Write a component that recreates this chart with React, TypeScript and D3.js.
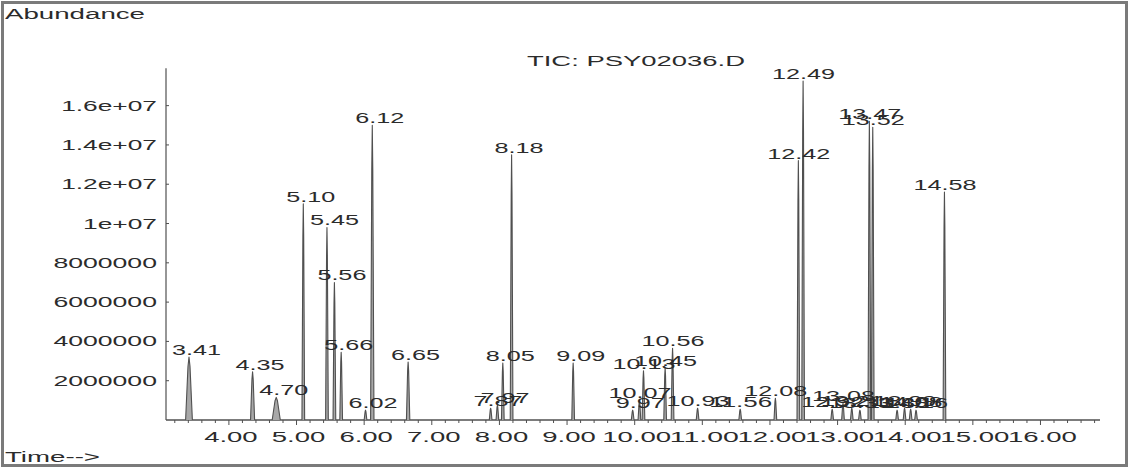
import React from "react";
import * as d3 from "d3";

// Peak retention times (min), heights (abundance), half-widths (min)
const peakTimes = [
  3.41, 4.35, 4.70, 5.10, 5.45, 5.56, 5.66, 6.02, 6.12, 6.65,
  7.87, 7.97, 8.05, 8.18, 9.09, 9.97, 10.07, 10.13, 10.45, 10.56,
  10.93, 11.56, 12.08, 12.42, 12.49, 12.92, 13.08, 13.21, 13.33,
  13.47, 13.52, 13.88, 13.99, 14.08, 14.16, 14.58,
];
const peakHeights = [
  3.2e6, 2.45e6, 1.15e6, 11.0e6, 9.8e6, 7.0e6, 3.45e6, 0.5e6, 15.0e6, 2.95e6,
  0.6e6, 0.75e6, 2.9e6, 13.5e6, 2.9e6, 0.5e6, 1.0e6, 2.5e6, 2.65e6, 3.65e6,
  0.6e6, 0.55e6, 1.1e6, 13.2e6, 17.25e6, 0.55e6, 0.85e6, 0.6e6, 0.5e6,
  15.2e6, 14.9e6, 0.5e6, 0.6e6, 0.55e6, 0.5e6, 11.6e6,
];
const peakHalfWidths = [
  0.05, 0.03, 0.06, 0.02, 0.02, 0.02, 0.02, 0.02, 0.025, 0.025,
  0.02, 0.02, 0.02, 0.02, 0.02, 0.02, 0.02, 0.02, 0.02, 0.02,
  0.02, 0.02, 0.02, 0.02, 0.02, 0.02, 0.02, 0.02, 0.02,
  0.02, 0.02, 0.02, 0.02, 0.02, 0.02, 0.02,
];
const peakLabels = peakTimes.map((t) => t.toFixed(2));

const xTickValues = [4, 5, 6, 7, 8, 9, 10, 11, 12, 13, 14, 15, 16];
const xTickLabels = xTickValues.map((v) => v.toFixed(2));
const yTickValues = [2e6, 4e6, 6e6, 8e6, 1e7, 1.2e7, 1.4e7, 1.6e7];
const yTickLabels = ["2000000", "4000000", "6000000", "8000000", "1e+07", "1.2e+07", "1.4e+07", "1.6e+07"];
const titleText = "TIC: PSY02036.D";
const yAxisTitle = "Abundance";
const xAxisTitle = "Time-->";

const W = 1129;
const H = 468;
const FONT = "'Liberation Sans', Arial, sans-serif";
const TEXT = "#2b2b2b";
const INK = "#505050";

const x = d3.scaleLinear().domain([3.07, 16.88]).range([166, 1100]);
const y = d3.scaleLinear().domain([0, 17.9e6]).range([420, 68.3]);

function textWidth(s: string, per = 14.8) {
  let w = 0;
  for (const c of s) w += c === "." || c === ":" || c === " " ? 7 : per;
  return w;
}

const peakLine = d3
  .line<[number, number]>()
  .x((d) => x(d[0]))
  .y((d) => y(d[1]));

export default function App() {
  const minorTicks = d3.range(3.2, 16.81, 0.2).filter(
    (v) => Math.abs(v - Math.round(v)) > 0.01
  );
  return (
    <div style={{ position: "absolute", left: 0, top: 0 }}>
      <svg width={W} height={H} style={{ display: "block", background: "#fff" }}>
        <rect x={2.5} y={2.5} width={W - 5} height={H - 5} fill="#fff" stroke="#7a7a7a" strokeWidth={3} />
        <text x={5} y={19} fontFamily={FONT} fontSize={14} fill={TEXT}
          textLength={140} lengthAdjust="spacingAndGlyphs">{yAxisTitle}</text>
        <text x={5} y={462} fontFamily={FONT} fontSize={14} fill={TEXT}
          textLength={95} lengthAdjust="spacingAndGlyphs">{xAxisTitle}</text>
        <text x={527} y={66} fontFamily={FONT} fontSize={14} fill={TEXT}
          textLength={218} lengthAdjust="spacingAndGlyphs">{titleText}</text>

        {/* y axis */}
        <line x1={x.range()[0]} x2={x.range()[0]} y1={y.range()[0]} y2={y.range()[1]} stroke={INK} strokeWidth={1.2} />
        {yTickValues.map((v, i) => (
          <g key={"yt" + i}>
            <line x1={x.range()[0]} x2={x.range()[0] + 3} y1={y(v)} y2={y(v)} stroke={INK} />
            <text x={157} y={y(v) + 5} textAnchor="end" fontFamily={FONT} fontSize={14} fill={TEXT}
              textLength={textWidth(yTickLabels[i])} lengthAdjust="spacingAndGlyphs">{yTickLabels[i]}</text>
          </g>
        ))}

        {/* x axis */}
        <line x1={x.range()[0]} x2={x.range()[1]} y1={y(0)} y2={y(0)} stroke={INK} strokeWidth={1.5} />
        {minorTicks.map((v, i) => (
          <line key={"mt" + i} x1={x(v)} x2={x(v)} y1={y(0)} y2={y(0) + 3} stroke={INK} />
        ))}
        {xTickValues.map((v, i) => (
          <g key={"xt" + i}>
            <line x1={x(v)} x2={x(v)} y1={y(0)} y2={y(0) + 5} stroke={INK} />
            <text x={x(v) + 2} y={442} textAnchor="middle" fontFamily={FONT} fontSize={14} fill={TEXT}
              textLength={textWidth(xTickLabels[i], 15.5)} lengthAdjust="spacingAndGlyphs">{xTickLabels[i]}</text>
          </g>
        ))}

        {/* peaks */}
        {peakTimes.map((t, i) => {
          const w = peakHalfWidths[i];
          const h = peakHeights[i];
          const pts: [number, number][] = [
            [t - w, 0],
            [t - w * 0.3, h * 0.85],
            [t, h],
            [t + w * 0.3, h * 0.85],
            [t + w, 0],
          ];
          return (
            <path key={"p" + i} d={peakLine(pts) || ""} fill="#a8a8a8" stroke={INK}
              strokeWidth={1.1} strokeLinejoin="round" />
          );
        })}

        {/* peak labels */}
        {peakTimes.map((t, i) => {
          const lab = peakLabels[i];
          const intDigits = lab.split(".")[0].length;
          return (
            <text key={"pl" + i} x={x(t) - intDigits * 14 - 3} y={y(peakHeights[i]) - 2}
              fontFamily={FONT} fontSize={14} fill={TEXT}
              textLength={textWidth(lab, 14)} lengthAdjust="spacingAndGlyphs">{lab}</text>
          );
        })}
      </svg>
    </div>
  );
}
